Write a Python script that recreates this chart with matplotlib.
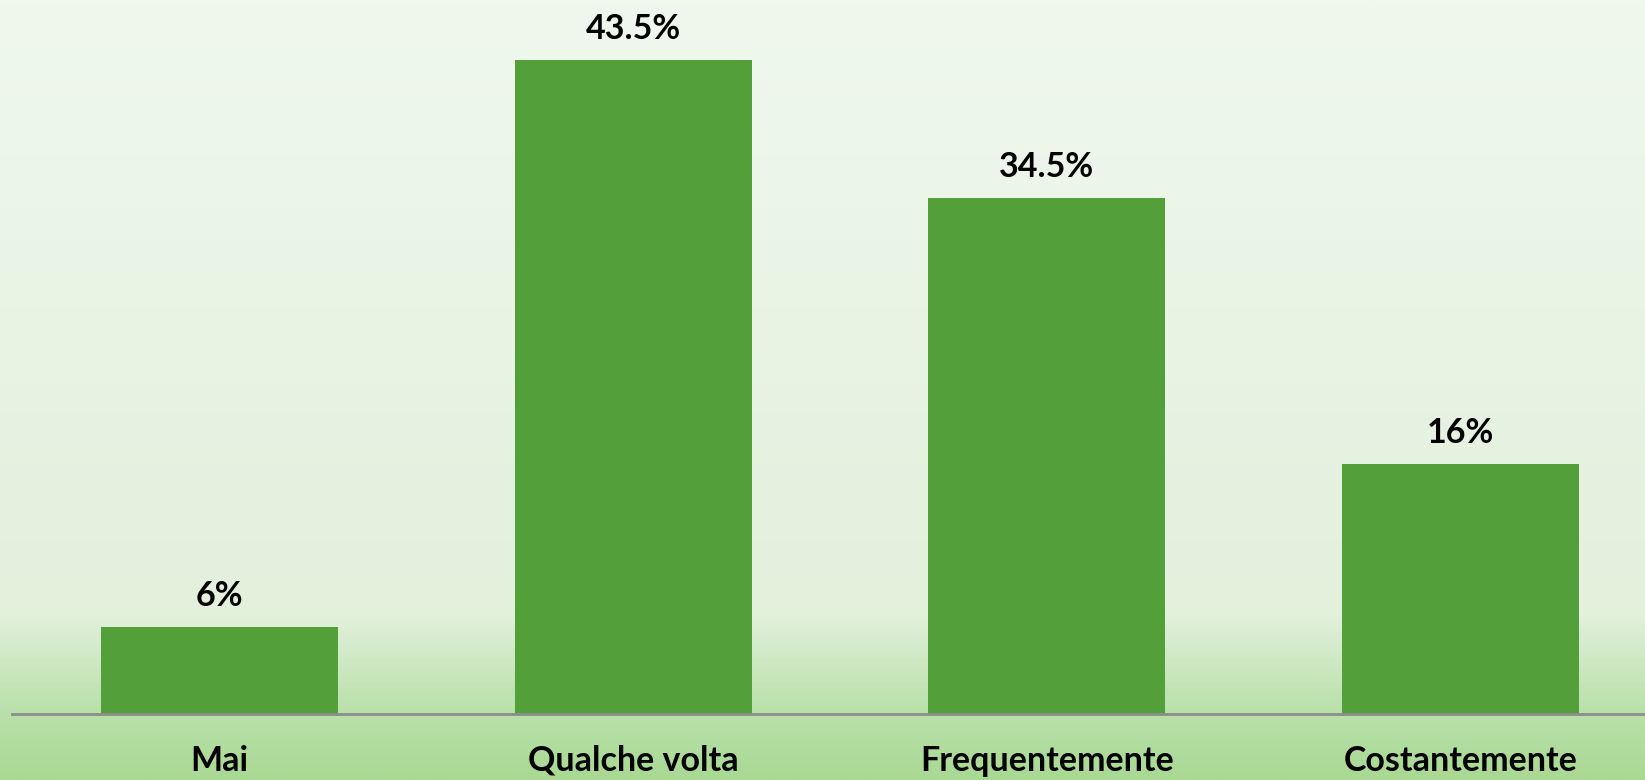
import numpy as np
import matplotlib
matplotlib.use("Agg")
import matplotlib.pyplot as plt
from matplotlib.colors import LinearSegmentedColormap

categories = ["Mai", "Qualche volta", "Frequentemente", "Costantemente"]
values = [5.8, 43.5, 34.3, 16.6]
value_labels = ["6%", "43.5%", "34.5%", "16%"]

W, H = 1645, 780
fig = plt.figure(figsize=(W / 100, H / 100), dpi=100)

# background gradient
bg = fig.add_axes([0, 0, 1, 1], zorder=0)
cmap = LinearSegmentedColormap.from_list(
    "bg", [(0.0, "#F0F8EE"), (0.79, "#E2F0DC"), (0.915, "#B9E0A9"), (1.0, "#A9D993")])
grad = np.linspace(0, 1, 512).reshape(-1, 1)
bg.imshow(grad, aspect="auto", cmap=cmap, extent=[0, 1, 1, 0])
bg.axis("off")

left = 12 / W
bottom = (H - 714) / H
ax = fig.add_axes([left, bottom, 1 - left, 714 / H], zorder=1)
ax.patch.set_alpha(0)

x = np.arange(len(categories))
bars = ax.bar(x, values, width=0.573, color="#539F3A", zorder=2)
ax.set_xlim(-0.502, 3.446)
ax.set_ylim(0, 47.5)

for b, lab in zip(bars, value_labels):
    ax.annotate(lab, (b.get_x() + b.get_width() / 2, b.get_height()),
                xytext=(0, 22.5), textcoords="offset points",
                ha="center", va="center", fontsize=24.5, fontweight="bold",
                family="Lato", color="#000000")

for s in ["top", "right", "left"]:
    ax.spines[s].set_visible(False)
ax.spines["bottom"].set_color("#8C8C8C")
ax.spines["bottom"].set_linewidth(2)
ax.set_yticks([])
ax.set_xticks(x)
ax.set_xticklabels(categories, fontsize=24.5, fontweight="bold", family="Lato")
ax.tick_params(axis="x", length=0, pad=22)

fig.savefig("out.png", dpi=100)
